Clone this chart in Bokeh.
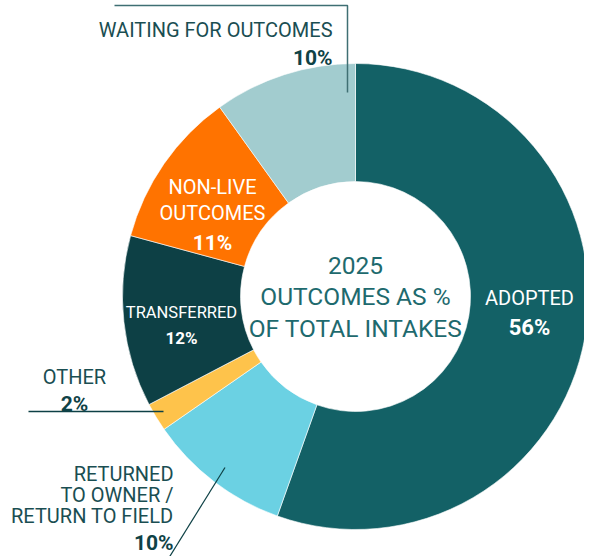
import math
from bokeh.plotting import figure
from bokeh.models import Range1d, ColumnDataSource
from bokeh.core.properties import value
from bokeh.embed import file_html
from bokeh.resources import INLINE

# ---- data ----
categories = ["ADOPTED", "RETURNED TO OWNER / RETURN TO FIELD", "OTHER",
              "TRANSFERRED", "NON-LIVE OUTCOMES", "WAITING FOR OUTCOMES"]
values = [56, 10, 2, 12, 11, 10]
colors = ["#136166", "#6BD1E3", "#FEC34B", "#0D4045", "#FF7300", "#A2CCCF"]
pct_labels = [f"{v}%" for v in values]
center_lines = ["2025", "OUTCOMES AS %", "OF TOTAL INTAKES"]

# ---- layout helpers (page pixel -> data) ----
W, H = 584, 556
def Y(py):
    return 558 - py

CX, CY = 355, Y(296)
R_OUT, R_IN = 233, 115

total = sum(values)
starts, ends = [], []
cum = 0.0
for v in values:
    starts.append(math.pi / 2 - cum / total * 2 * math.pi)
    cum += v
    ends.append(math.pi / 2 - cum / total * 2 * math.pi)

src = ColumnDataSource(dict(start=starts, end=ends, color=colors, cat=categories,
                            x=[CX] * len(values), y=[CY] * len(values)))

p = figure(width=W, height=H, output_backend="svg", toolbar_location=None,
           x_range=Range1d(0, W), y_range=Range1d(558 - H, 558), min_border=0,
           background_fill_color="white", border_fill_color="white",
           outline_line_color=None)
p.axis.visible = False
p.grid.visible = False

p.annular_wedge(x="x", y="y", inner_radius=R_IN, outer_radius=R_OUT,
                start_angle="start", end_angle="end", direction="clock",
                fill_color="color", line_color="white", line_width=0.6,
                source=src)

FONT = value("Roboto")
DARK = "#1A4E52"
DARKB = "#0F4246"
CENTER = "#1E6A6E"

def txt(x, py, s, size, color, align="center", bold=False):
    p.text(x=[x], y=[Y(py)], text=[s], text_font=FONT, text_font_size=size,
           text_color=color, text_align=align, text_baseline="alphabetic",
           text_font_style="bold" if bold else "normal")

# leader lines
p.line(x=[114, 347, 347], y=[Y(5), Y(5), Y(92)], line_color="#3F6F73", line_width=1.5)
p.line(x=[28, 163], y=[Y(411), Y(411)], line_color="#0D4045", line_width=1.5)
p.line(x=[224.5, 168], y=[Y(467), Y(558)], line_color="#0D4045", line_width=1.2)

# labels
txt(332, 29, "WAITING FOR OUTCOMES", "20px", DARK, "right")
txt(332, 57, pct_labels[5], "21px", DARKB, "right", True)

txt(212, 186, "NON-LIVE", "20px", "white")
txt(212, 212, "OUTCOMES", "20px", "white")
txt(212, 242, pct_labels[4], "21px", "white", bold=True)

txt(181, 312, "TRANSFERRED", "16.5px", "white")
txt(181, 337, pct_labels[3], "17px", "white", bold=True)

txt(74, 376, "OTHER", "20px", DARK)
txt(74, 403, pct_labels[2], "21px", DARKB, bold=True)

txt(173, 473, "RETURNED", "20px", DARK, "right")
txt(173, 494, "TO OWNER /", "20px", DARK, "right")
txt(173, 515, "RETURN TO FIELD", "20px", DARK, "right")
txt(173, 542, pct_labels[1], "21px", DARKB, "right", True)

txt(529, 297, "ADOPTED", "20px", "white")
txt(529, 327, pct_labels[0], "22px", "white", bold=True)

txt(355, 265, center_lines[0], "24.5px", CENTER)
txt(355, 296, center_lines[1], "24.5px", CENTER)
txt(355, 328, center_lines[2], "24.5px", CENTER)

open("out.html", "w").write(file_html(p, INLINE))
